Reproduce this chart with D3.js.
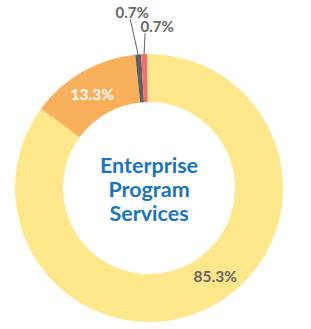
<!DOCTYPE html>
<html>
<head>
<meta charset="utf-8">
<script src="https://cdn.jsdelivr.net/npm/d3@7"></script>
<style>
  body { margin: 0; background: #fff; }
  svg { display: block; font-family: Lato, "Open Sans", sans-serif; }
</style>
</head>
<body>
<div id="chart"></div>
<script>
// Data
const categories = ["Main", "Second", "Third", "Fourth"];
const values = [85.3, 13.3, 0.7, 0.7];
const labels = ["85.3%", "13.3%", "0.7%", "0.7%"];
const colors = ["#ffe78c", "#f9b05a", "#5f6062", "#f0706a"];
const centerLines = ["Enterprise", "Program", "Services"];

const width = 311;
const height = 329;
const cx = 149;
const cy = 188;
const outerR = 134;
const innerR = 86;

const svg = d3
	.select("#chart")
	.append("svg")
	.attr("width", width)
	.attr("height", height);

const g = svg.append("g").attr("transform", `translate(${cx},${cy})`);

const pie = d3
	.pie()
	.sort(null)
	.value((d) => d.value)
	.startAngle(-0.015)
	.endAngle(2 * Math.PI - 0.015);

const arc = d3.arc().innerRadius(innerR).outerRadius(outerR);

const data = categories.map((c, i) => ({
	key: c,
	value: values[i],
	label: labels[i],
	color: colors[i],
}));
const arcs = pie(data);

g.selectAll("path.slice")
	.data(arcs)
	.enter()
	.append("path")
	.attr("class", "slice")
	.attr("d", arc)
	.style("fill", (d) => d.data.color);

// Labels for big slices (inside the ring)
const big = arcs.filter((d) => d.data.value > 5);
g.selectAll("text.in-label")
	.data(big)
	.enter()
	.append("text")
	.attr("class", "in-label")
	.attr("transform", (d) => {
		let [x, y] = arc.centroid(d);
		if (d.index === 0) {
			// 85.3% sits a bit further along the ring
			const a = (d.startAngle + d.endAngle) / 2 - 0.17;
			const r = (innerR + outerR) / 2;
			x = r * Math.sin(a);
			y = -r * Math.cos(a);
		} else {
			x -= 2;
			y += 1;
		}
		return `translate(${x},${y})`;
	})
	.attr("text-anchor", "middle")
	.attr("dominant-baseline", "central")
	.style("font-size", "15.5px")
	.style("font-weight", 700)
	.style("fill", (d) => (d.index === 0 ? "#666666" : "#ffffff"))
	.text((d) => d.data.label);

// Small slices: leader lines + labels above ring
const small = arcs.filter((d) => d.data.value <= 5);
const leadR = [170, 155];
small.forEach((d, i) => {
	const a = (d.startAngle + d.endAngle) / 2;
	const x0 = outerR * Math.sin(a);
	const y0 = -outerR * Math.cos(a);
	const a1 = i === 0 ? a - 0.03 : a + 0.012;
	const x1 = leadR[i] * Math.sin(a1);
	const y1 = -leadR[i] * Math.cos(a1);
	g.append("line")
		.attr("x1", x0)
		.attr("y1", y0)
		.attr("x2", x1)
		.attr("y2", y1)
		.style("stroke", "#5f6062")
		.style("stroke-width", 1);
	g.append("text")
		.attr("x", i === 0 ? x1 + 2 : x1 + 12)
		.attr("y", y1 - 1)
		.attr("text-anchor", "middle")
		.style("font-size", "15px")
		.style("font-weight", 700)
		.style("fill", "#666666")
		.text(d.data.label);
});

// Center title
const title = g
	.append("text")
	.attr("text-anchor", "middle")
	.style("font-size", "21.5px")
	.style("font-weight", 700)
	.style("fill", "#1a75c1");
centerLines.forEach((t, i) => {
	title
		.append("tspan")
		.attr("x", 0)
		.attr("y", -15 + i * 24)
		.text(t);
});
</script>
</body>
</html>
